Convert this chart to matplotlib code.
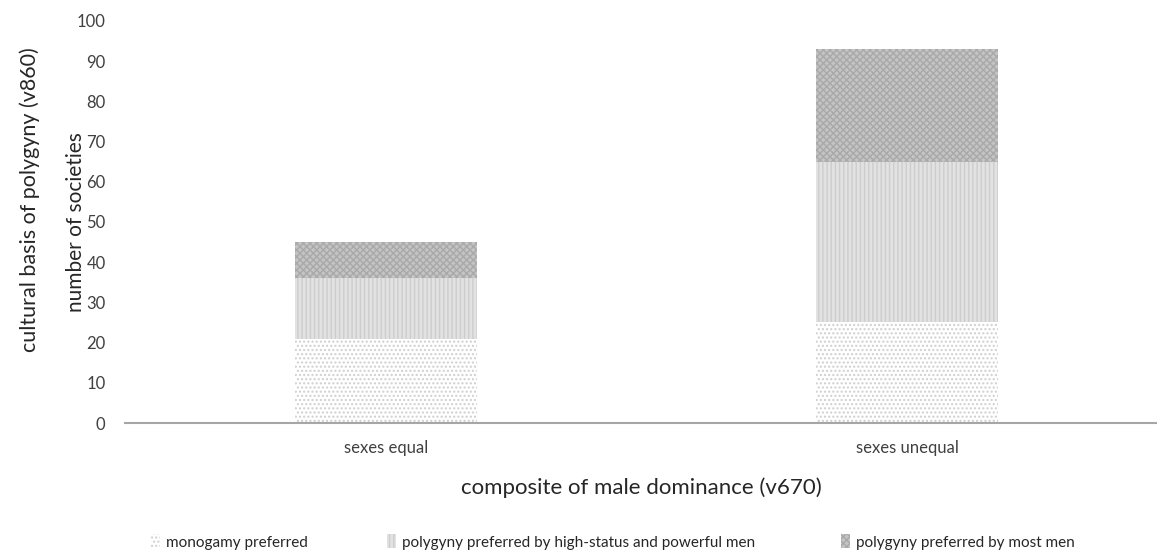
import numpy as np
import matplotlib.pyplot as plt
from matplotlib.patches import Patch

plt.rcParams['font.family'] = ['Lato', 'DejaVu Sans']
plt.rcParams['hatch.linewidth'] = 1.0

# composite of male dominance (v670) vs cultural basis of polygyny (v860)
categories = ["sexes equal", "sexes unequal"]
monogamy = [21, 25]
high_status = [15, 40]
most_men = [9, 28]
series_names = ["monogamy preferred",
                "polygyny preferred by high-status and powerful men",
                "polygyny preferred by most men"]

face = ["white", "#e2e2e2", "#c4c4c4"]
hatch_col = ["#cfcfcf", "#cdcdcd", "#a9a9a9"]
hatches = ["....", "||||", "xxxxx"]

fig = plt.figure(figsize=(11.57, 5.53), dpi=100)
ax = fig.add_axes([125 / 1157, 1 - 423 / 553, 1032 / 1157, 402 / 553])

x = np.arange(len(categories))
bottom = np.zeros(len(categories))
for vals, fc, hc, h in zip([monogamy, high_status, most_men], face, hatch_col, hatches):
    ax.bar(x, vals, 0.35, bottom=bottom, color=fc, edgecolor=hc,
           hatch=h, linewidth=0)
    bottom += np.array(vals)

ax.set_xlim(-0.501, 1.48)
ax.set_ylim(0, 100)
ax.set_yticks(range(0, 101, 10))
ax.set_xticks(x)
ax.set_xticklabels(categories, fontsize=12, color="#404040")
ax.tick_params(axis="y", length=0, labelsize=12, colors="#404040", pad=14)
ax.tick_params(axis="x", length=0, pad=12)
for s in ["top", "right", "left"]:
    ax.spines[s].set_visible(False)
ax.spines["bottom"].set_color("#a6a6a6")
ax.spines["bottom"].set_linewidth(1.5)

ax.set_ylabel("number of societies", fontsize=15, color="#262626")
ax.yaxis.set_label_coords(-0.038, 0.5)
ax.set_xlabel("composite of male dominance (v670)", fontsize=16,
              color="#262626", labelpad=16)
fig.text(30 / 1157, 1 - 200 / 553, "cultural basis of polygyny (v860)",
         rotation=90, fontsize=15.5, color="#262626", ha="center", va="center")

# one small legend entry per series, spread along the bottom
legend_x = [143, 379, 833]
for name, fc, hc, h, lx in zip(series_names, face, hatch_col, hatches, legend_x):
    handle = Patch(facecolor=fc, edgecolor=hc, hatch=h, linewidth=0)
    fig.legend([handle], [name], loc="center left",
               bbox_to_anchor=(lx / 1157, 1 - 542 / 553), frameon=False,
               fontsize=11, handlelength=0.6, handleheight=1.0,
               handletextpad=0.4, labelcolor="#262626", borderpad=0)

fig.savefig("out.png", dpi=100)
